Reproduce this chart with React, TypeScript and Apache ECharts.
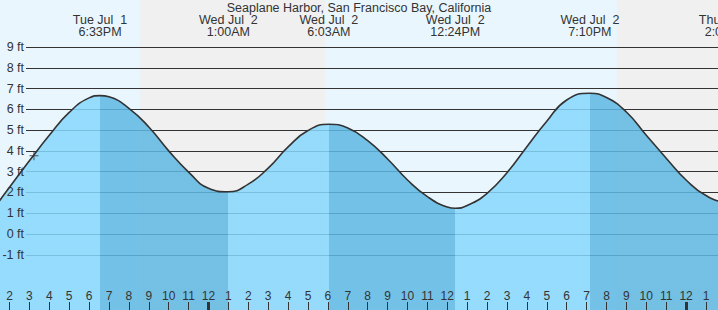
import React, { useEffect, useRef } from 'react';
import * as echarts from 'echarts';

const TITLE = 'Seaplane Harbor, San Francisco Bay, California';

// hours counted from Tue Jul 1 00:00
const tideHours = [
  13, 14, 15, 16, 17, 18, 18.55, 19, 20, 21, 22, 23, 24, 25.0,
  26, 27, 28, 29, 30.05, 31, 32, 33, 34, 35, 36, 36.4,
  37, 38, 39, 40, 41, 42, 43.17, 44, 45, 46, 47, 48, 49, 50.02, 51,
];
const tideFeet = [
  0.95, 2.25, 3.52, 4.75, 5.85, 6.55, 6.66, 6.6, 6.05, 5.15, 4.0, 2.98, 2.2, 2.03,
  2.4, 3.17, 4.19, 4.98, 5.28, 5.1, 4.49, 3.61, 2.6, 1.8, 1.3, 1.24,
  1.37, 1.96, 2.95, 4.2, 5.43, 6.45, 6.77, 6.57, 5.87, 4.75, 3.65, 2.6, 1.85, 1.57, 1.7,
];

const eventHours = [18.55, 25.0, 30.05, 36.4, 43.167, 50.017];
const eventDays = ['Tue Jul  1', 'Wed Jul  2', 'Wed Jul  2', 'Wed Jul  2', 'Wed Jul  2', 'Thu Jul  3'];
const eventTimes = ['6:33PM', '1:00AM', '6:03AM', '12:24PM', '7:10PM', '2:01AM'];
const eventTypes = ['H', 'L', 'H', 'L', 'H', 'L'];

const nightStarts = [20.57, 44.53];
const nightEnds = [29.85, 51.62];

const feetTicks = [-1, 0, 1, 2, 3, 4, 5, 6, 7, 8, 9];
const hourTicks = [
  14, 15, 16, 17, 18, 19, 20, 21, 22, 23, 24, 25, 26, 27, 28, 29, 30, 31, 32, 33, 34, 35,
  36, 37, 38, 39, 40, 41, 42, 43, 44, 45, 46, 47, 48, 49,
];
const midnightTicks = [24, 48];

const nowHour = 15.23;
const nowFeet = 3.76;

const X_MIN = 13.523;
const PX_PER_HOUR = 19.9;
const GRID_WIDTH = 758;
const X_MAX = X_MIN + GRID_WIDTH / PX_PER_HOUR;
const Y_MIN = -3.657;
const Y_MAX = 11.261;

const LIGHT = 'rgb(135,215,253)';
const DARK = 'rgb(94,184,226)';
const DAY_BG = '#eaf6fe';
const NIGHT_BG = '#f0f0f0';
const INK = '#333';
const FONT = '"Liberation Sans", Arial, Helvetica, sans-serif';

export default function App() {
  const ref = useRef<HTMLDivElement>(null);

  useEffect(() => {
    if (!ref.current) return;
    const chart = echarts.init(ref.current, undefined, { renderer: 'svg' });

    const tideData = tideHours.map((h, i) => [h, tideFeet[i]]);
    const pieces: any[] = [];
    for (let i = 0; i < eventTypes.length - 1; i++) {
      if (eventTypes[i] === 'H' && eventTypes[i + 1] === 'L') {
        pieces.push({ gte: eventHours[i], lt: eventHours[i + 1], color: DARK });
      }
    }
    const nights = nightStarts.map((s, i) => [{ xAxis: s }, { xAxis: nightEnds[i] }]);

    const option: any = {
      animation: false,
      textStyle: { fontFamily: FONT },
      title: {
        text: TITLE,
        left: 'center',
        top: 1,
        padding: 0,
        textStyle: { fontSize: 12.5, fontWeight: 'normal', color: INK, fontFamily: FONT },
      },
      grid: [
        { left: 0, width: GRID_WIDTH, top: 0, bottom: 0, outerBoundsMode: 'none', containLabel: false },
        { left: 26, right: 0, top: 0, bottom: 0, outerBoundsMode: 'none', containLabel: false },
        { left: 0, width: GRID_WIDTH, top: 0, bottom: 0, outerBoundsMode: 'none', containLabel: false },
      ],
      xAxis: [
        {
          gridIndex: 0,
          type: 'value',
          position: 'bottom',
          min: X_MIN,
          max: X_MAX,
          z: 10,
          axisLine: { show: false, onZero: false },
          splitLine: { show: false },
          axisTick: {
            show: true,
            inside: true,
            length: 8,
            customValues: hourTicks,
            lineStyle: { color: INK, width: 1 },
          },
          axisLabel: {
            show: true,
            inside: true,
            margin: 8,
            customValues: hourTicks,
            color: INK,
            fontSize: 12,
            fontFamily: FONT,
            formatter: (v: number) => String(((Math.round(v) + 11) % 12) + 1),
          },
        },
        {
          gridIndex: 0,
          type: 'value',
          position: 'top',
          min: X_MIN,
          max: X_MAX,
          z: 10,
          axisLine: { show: false, onZero: false },
          splitLine: { show: false },
          axisTick: { show: false },
          axisLabel: {
            show: true,
            inside: true,
            margin: 13.5,
            customValues: eventHours,
            color: INK,
            fontSize: 12.5,
            lineHeight: 12.5,
            fontFamily: FONT,
            formatter: (v: number) => {
              let k = 0;
              eventHours.forEach((h, i) => {
                if (Math.abs(h - v) < Math.abs(eventHours[k] - v)) k = i;
              });
              return eventDays[k] + '\n' + eventTimes[k];
            },
          },
        },
        {
          gridIndex: 1,
          type: 'value',
          min: X_MIN,
          max: X_MAX,
          show: false,
        },
        {
          gridIndex: 2,
          type: 'value',
          position: 'bottom',
          min: X_MIN,
          max: X_MAX,
          z: 10,
          axisLine: { show: false, onZero: false },
          splitLine: { show: false },
          axisLabel: { show: false },
          axisTick: {
            show: true,
            inside: true,
            length: 8,
            customValues: midnightTicks,
            lineStyle: { color: INK, width: 3 },
          },
        },
      ],
      yAxis: [
        {
          gridIndex: 0,
          type: 'value',
          min: Y_MIN,
          max: Y_MAX,
          z: 10,
          axisLine: { show: false, onZero: false },
          axisTick: { show: false },
          splitLine: { show: false },
          axisLabel: {
            show: true,
            inside: true,
            align: 'right',
            margin: 24,
            customValues: feetTicks,
            color: INK,
            fontSize: 12.5,
            fontFamily: FONT,
            formatter: (v: number) => `${v} ft`,
          },
        },
        {
          gridIndex: 1,
          type: 'value',
          min: Y_MIN,
          max: Y_MAX,
          z: 1.5,
          axisLine: { show: false, onZero: false },
          axisTick: { show: false, customValues: feetTicks },
          axisLabel: { show: false, customValues: feetTicks },
          splitLine: { show: true, lineStyle: { color: INK, width: 1 } },
        },
        {
          gridIndex: 2,
          type: 'value',
          min: Y_MIN,
          max: Y_MAX,
          show: false,
        },
      ],
      visualMap: {
        type: 'piecewise',
        show: false,
        dimension: 0,
        seriesIndex: 1,
        pieces,
        outOfRange: { color: LIGHT },
      },
      series: [
        {
          type: 'line',
          xAxisIndex: 0,
          yAxisIndex: 0,
          data: tideData,
          z: 0,
          silent: true,
          showSymbol: false,
          lineStyle: { opacity: 0, width: 0 },
          markArea: {
            silent: true,
            z: 0,
            itemStyle: { color: NIGHT_BG },
            label: { show: false },
            data: nights,
          },
        },
        {
          type: 'line',
          xAxisIndex: 0,
          yAxisIndex: 0,
          data: tideData,
          z: 2,
          smooth: 0.5,
          showSymbol: false,
          silent: true,
          lineStyle: { color: INK, width: 1.6 },
          areaStyle: { opacity: 0.85, origin: 'start' },
        },
        {
          type: 'scatter',
          xAxisIndex: 0,
          yAxisIndex: 0,
          data: [[nowHour, nowFeet]],
          z: 5,
          silent: true,
          symbol: 'path://M0 4H9V5H0Z M4 0H5V9H4Z',
          symbolSize: 9,
          itemStyle: { color: INK },
        },
      ],
    };

    chart.setOption(option);
    return () => chart.dispose();
  }, []);

  return (
    <div
      ref={ref}
      style={{ position: 'fixed', left: 0, top: 0, width: 718, height: 310, background: DAY_BG }}
    />
  );
}
